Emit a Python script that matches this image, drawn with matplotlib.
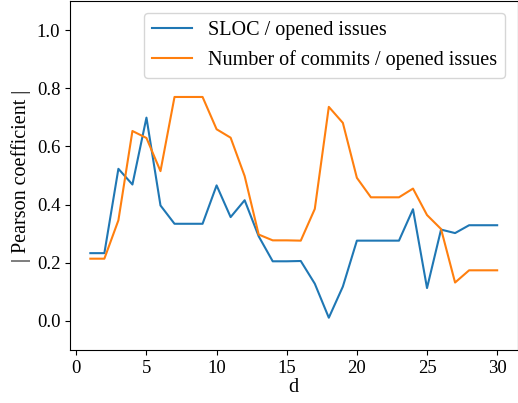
import matplotlib
matplotlib.use('Agg')
import matplotlib.pyplot as plt
import numpy as np

plt.rcParams['font.family'] = ['Liberation Serif', 'DejaVu Serif']
plt.rcParams['mathtext.fontset'] = 'stix'

# window size d
d = list(range(1, 31))

# |Pearson| of SLOC vs opened issues
sloc_issues = [0.233, 0.233, 0.523, 0.469, 0.699, 0.397, 0.334, 0.334, 0.334, 0.466,
               0.357, 0.415, 0.291, 0.205, 0.205, 0.206, 0.128, 0.011, 0.118, 0.276,
               0.276, 0.276, 0.276, 0.384, 0.113, 0.314, 0.302, 0.329, 0.329, 0.329]

# |Pearson| of number of commits vs opened issues
commits_issues = [0.214, 0.214, 0.346, 0.653, 0.629, 0.515, 0.770, 0.770, 0.770, 0.659,
                  0.630, 0.498, 0.297, 0.277, 0.277, 0.276, 0.385, 0.736, 0.681, 0.492,
                  0.425, 0.425, 0.425, 0.455, 0.364, 0.316, 0.132, 0.174, 0.174, 0.174]

fig = plt.figure(figsize=(5.18, 4.03), dpi=100)
ax = fig.add_axes([70 / 518, 53 / 403, 447.5 / 518, 349 / 403])

ax.plot(d, sloc_issues, color='#1f77b4', linewidth=1.5, label='SLOC / opened issues')
ax.plot(d, commits_issues, color='#ff7f0e', linewidth=1.5,
        label='Number of commits / opened issues')

ax.set_ylim(-0.1, 1.1)
ax.set_yticks([0.0, 0.2, 0.4, 0.6, 0.8, 1.0])
ax.set_xticks([0, 5, 10, 15, 20, 25, 30])
ax.tick_params(labelsize=13.5)
ax.set_xlabel('d', fontsize=14.5, labelpad=1)
ax.set_ylabel('| Pearson coefficient |', fontsize=14.5)
ax.legend(loc='upper right', fontsize=14.5, borderaxespad=0.6)

fig.savefig('out.png', dpi=100)
